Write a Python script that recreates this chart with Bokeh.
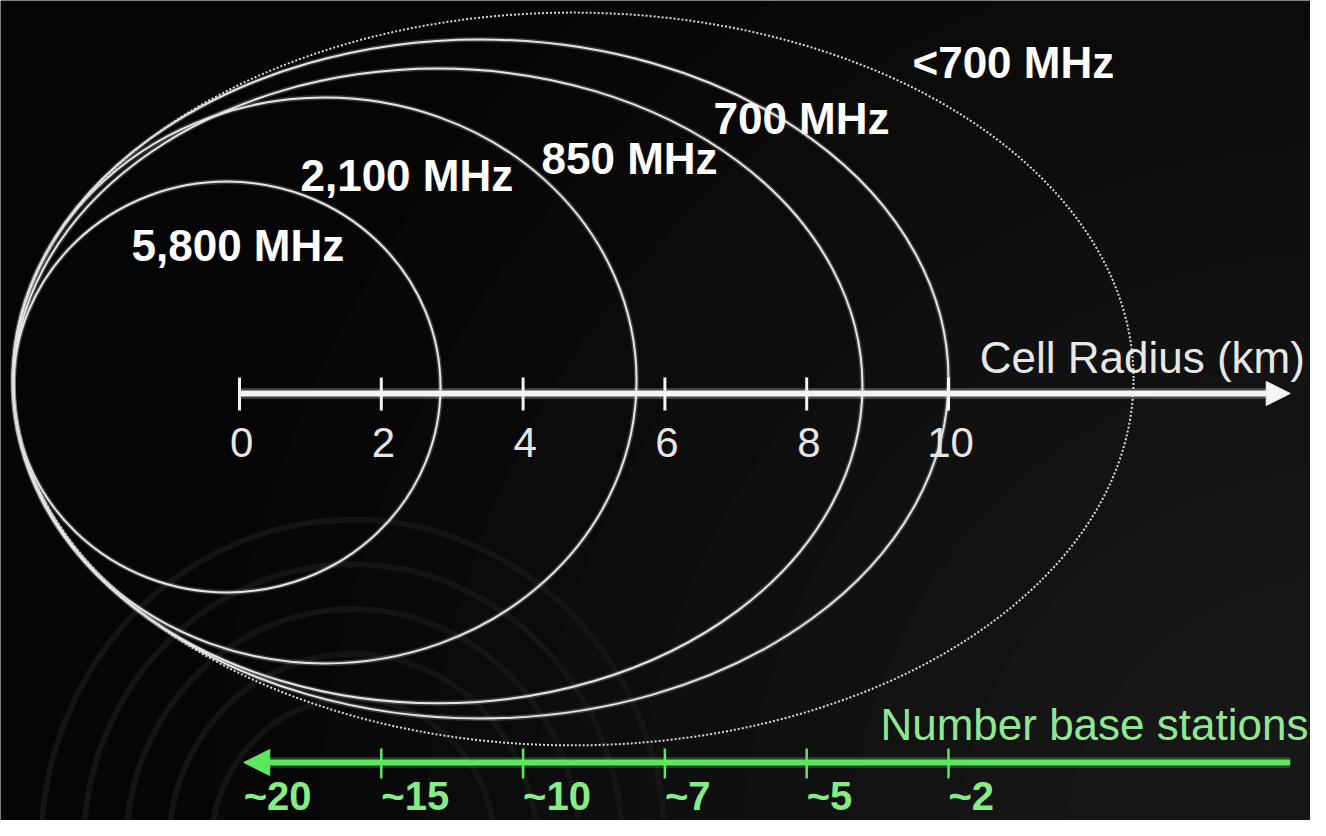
from bokeh.plotting import figure
from bokeh.models import Range1d, Arrow, NormalHead, ColumnDataSource
from bokeh.core.properties import value
from bokeh.embed import file_html
from bokeh.resources import INLINE

# ---------------- data ----------------
bands = ["5,800 MHz", "2,100 MHz", "850 MHz", "700 MHz", "<700 MHz"]
reach_km = [2.835, 5.60, 8.787, 10.0, 12.61]        # where each cell boundary crosses the radius axis
top_km = [2.99, 4.175, 4.584, 4.993, 5.374]          # upper extent of each cell outline
bottom_km = [-2.807, -3.808, -4.372, -4.584, -4.965] # lower extent of each cell outline
left_km = [-3.19, -3.19, -3.19, -3.20, -3.20]        # left extent of each cell outline
dashed = [False, False, False, False, True]

radius_ticks = [0, 2, 4, 6, 8, 10]
radius_tick_labels = ["0", "2", "4", "6", "8", "10"]
station_labels = ["~20", "~15", "~10", "~7", "~5", "~2"]

# ---------------- frame ----------------
X0, X1 = -3.371, 15.106
Y0, Y1 = -6.023, 5.543

p = figure(width=1310, height=820, output_backend="svg", toolbar_location=None,
           x_range=Range1d(X0, X1), y_range=Range1d(Y0, Y1),
           x_axis_type=None, y_axis_type=None, min_border=0,
           background_fill_color="#050505", border_fill_color="#050505",
           outline_line_color=None)
p.grid.visible = False

# soft lighter vignette towards bottom-right
for r in [16.0, 14.5, 13.0, 11.5, 10.0, 8.5, 7.0, 5.5, 4.0]:
    p.circle(x=[X1 + 0.5], y=[Y0 - 0.5], radius=r, fill_color="#ffffff",
             fill_alpha=0.011, line_color=None)

# very faint ripple rings in the lower-left
for rad in [2.0, 2.6, 3.2, 3.8, 4.4]:
    p.ellipse(x=[1.6], y=[-6.4], width=2 * rad, height=2 * rad * 1.05, fill_color=None,
              line_color="#181818", line_alpha=0.8, line_width=6)

# ---------------- cell outlines ----------------
cx = [(l + r) / 2 for l, r in zip(left_km, reach_km)]
w = [r - l for l, r in zip(left_km, reach_km)]
cy = [(t + b) / 2 for t, b in zip(top_km, bottom_km)]
h = [t - b for t, b in zip(top_km, bottom_km)]


def pick(vals, flag):
    return [v for v, d in zip(vals, dashed) if d == flag]


solid = ColumnDataSource(dict(x=pick(cx, False), y=pick(cy, False), w=pick(w, False), h=pick(h, False)))
dotted = ColumnDataSource(dict(x=pick(cx, True), y=pick(cy, True), w=pick(w, True), h=pick(h, True)))
p.ellipse(x="x", y="y", width="w", height="h", source=solid, fill_color=None,
          line_color="#ffffff", line_alpha=0.2, line_width=5)
p.ellipse(x="x", y="y", width="w", height="h", source=solid, fill_color=None,
          line_color="#e6e6e6", line_width=2)
p.ellipse(x="x", y="y", width="w", height="h", source=dotted, fill_color=None,
          line_color="#d8d8d8", line_width=2, line_dash="2 2")

# band labels
label_x = [-1.523, 0.860, 4.260, 6.685, 9.492]
label_y = [2.087, 3.075, 3.315, 3.879, 4.668]
p.text(x=label_x, y=label_y, text=bands, text_color="#ffffff",
       text_font=value("Liberation Sans"), text_font_style="bold",
       text_font_size="44px", text_baseline="middle", text_align="left")

# ---------------- cell radius axis ----------------
AXIS_Y = 0.0
p.line(x=[radius_ticks[0], 14.6], y=[AXIS_Y, AXIS_Y], line_color="#ffffff",
       line_alpha=0.22, line_width=11)
p.add_layout(Arrow(end=NormalHead(size=24, fill_color="#f4f4f4", line_color="#f4f4f4"),
                   x_start=radius_ticks[0], y_start=AXIS_Y, x_end=14.82, y_end=AXIS_Y,
                   line_color="#f4f4f4", line_width=6))
p.segment(x0=radius_ticks, y0=[0.226] * len(radius_ticks), x1=radius_ticks,
          y1=[-0.240] * len(radius_ticks), line_color="#f4f4f4", line_width=3)
p.text(x=[t + 0.03 for t in radius_ticks], y=[-0.691] * len(radius_ticks), text=radius_tick_labels,
       text_color="#e6e6e6", text_font=value("Liberation Sans"),
       text_font_size="42px", text_baseline="middle", text_align="center")
p.text(x=[10.44], y=[0.508], text=["Cell Radius (km)"], text_color="#e8e8e8",
       text_font=value("Liberation Sans"), text_font_size="44px",
       text_baseline="middle", text_align="left")

# ---------------- base station axis ----------------
GREEN = "#5fe65f"
ST_Y = -5.205
p.line(x=[0.3, 14.82], y=[ST_Y, ST_Y], line_color=GREEN, line_alpha=0.22, line_width=11)
p.add_layout(Arrow(end=NormalHead(size=26, fill_color=GREEN, line_color=GREEN),
                   x_start=14.82, y_start=ST_Y, x_end=0.06, y_end=ST_Y,
                   line_color=GREEN, line_width=6))
p.segment(x0=radius_ticks[1:], y0=[-5.007] * 5, x1=radius_ticks[1:], y1=[-5.43] * 5,
          line_color=GREEN, line_width=2.5)
p.text(x=[0.06] + radius_ticks[1:], y=[-5.684] * len(station_labels), text=station_labels,
       text_color="#86ec86", text_font=value("Liberation Sans"), text_font_style="bold",
       text_font_size="40px", text_baseline="middle", text_align="left")
p.text(x=[9.04], y=[-4.668], text=["Number base stations"], text_color="#92e892",
       text_font=value("Liberation Sans"), text_font_size="44px",
       text_baseline="middle", text_align="left")

open("out.html", "w").write(file_html(p, INLINE))
